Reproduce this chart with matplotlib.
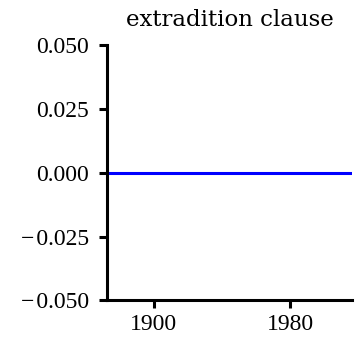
import numpy as np
import matplotlib.pyplot as plt

plt.rcParams['font.family'] = ['Liberation Serif', 'DejaVu Serif']
plt.rcParams['axes.unicode_minus'] = True

# data: share of treaties with an extradition clause (flat at zero)
years = [1873, 1900, 1920, 1940, 1960, 1980, 2000, 2016]
values = [0.0, 0.0, 0.0, 0.0, 0.0, 0.0, 0.0, 0.0]
xticks = [1900, 1980]
yticks = [-0.050, -0.025, 0.000, 0.025, 0.050]

fig = plt.figure(figsize=(3.58, 3.43), dpi=100)
ax = fig.add_axes([0.300, 0.124, 0.683, 0.745])

ax.plot(years, values, color='blue', linewidth=2.2)

ax.set_xlim(years[0], years[-1])
ax.set_ylim(-0.05, 0.05)
ax.set_xticks(xticks)
ax.set_yticks(yticks)
ax.set_yticklabels([f'{v:.3f}'.replace('-', '\u2212\u200a') for v in yticks])

for s in ['top', 'right']:
    ax.spines[s].set_visible(False)
for s in ['left', 'bottom']:
    ax.spines[s].set_linewidth(2.2)
ax.tick_params(width=2.2, length=6, labelsize=17)
ax.tick_params(axis='y', pad=7)
ax.tick_params(axis='x', pad=3.5)

ax.set_title('extradition clause', fontsize=16.5, family='DejaVu Serif', pad=13.5)

fig.savefig('out.png', dpi=100)
